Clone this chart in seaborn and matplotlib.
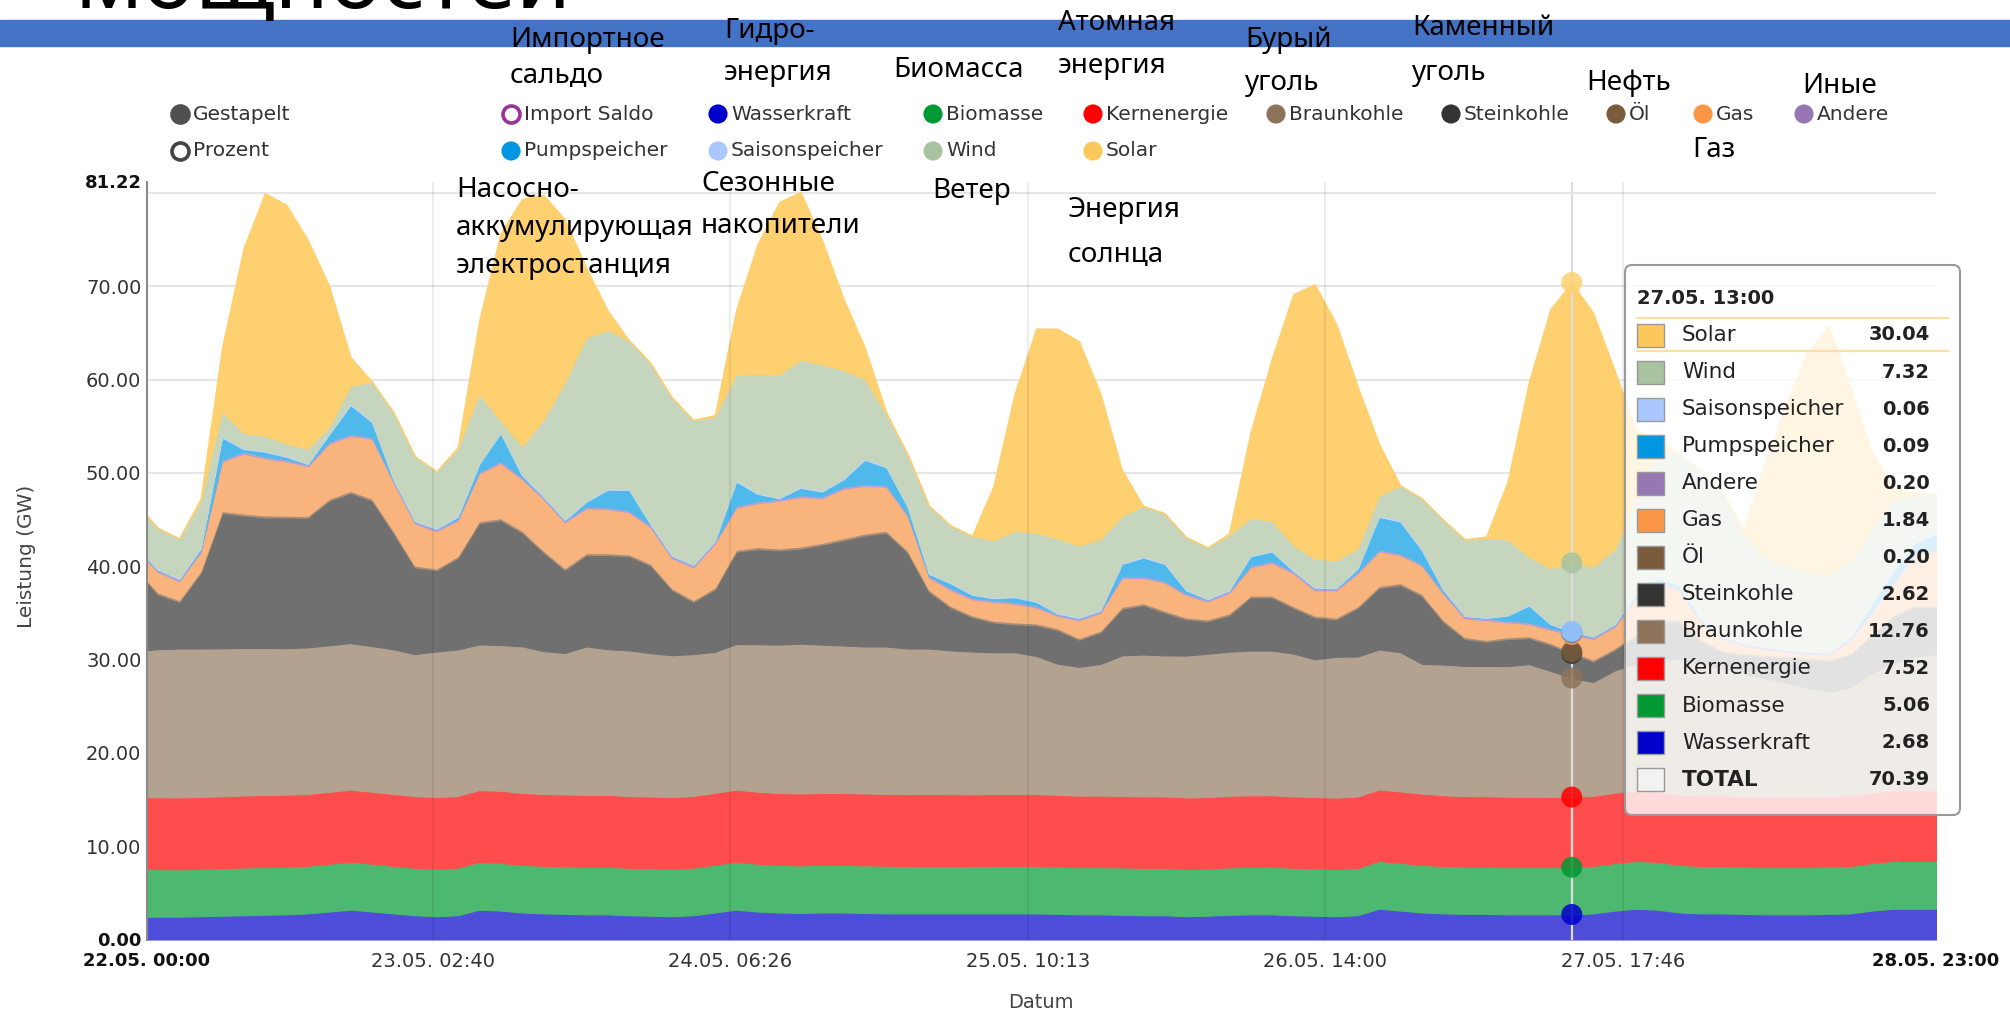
import matplotlib
matplotlib.use("Agg")
import numpy as np
import pandas as pd
import matplotlib.pyplot as plt
from matplotlib.patches import Rectangle, FancyBboxPatch
import seaborn as sns

# time axis: hours after 22.05. 00:00, sampled every two hours
hours = [0] + list(range(1, 168, 2))

# generation per source in GW
wasserkraft = [
    2.45, 2.45, 2.45, 2.5, 2.55, 2.6, 2.65, 2.7, 2.8, 3.0, 3.2, 3.0, 2.8,
    2.6, 2.5, 2.6, 3.2, 3.1, 2.9, 2.8, 2.75, 2.7, 2.7, 2.6, 2.55,
    2.5, 2.6, 2.9, 3.2, 3.0, 2.9, 2.85, 2.9, 2.9, 2.85, 2.8, 2.8,
    2.8, 2.8, 2.8, 2.8, 2.8, 2.8, 2.75, 2.7, 2.7, 2.65, 2.6, 2.6,
    2.5, 2.55, 2.65, 2.7, 2.7, 2.6, 2.55, 2.5, 2.6, 3.3, 3.1, 2.9,
    2.8, 2.75, 2.75, 2.7, 2.7, 2.7, 2.68, 2.8, 3.1, 3.3, 3.2, 2.9,
    2.8, 2.8, 2.75, 2.7, 2.7, 2.7, 2.75, 2.8, 3.1, 3.3, 3.3, 3.3,
]
biomasse = [
    5.10, 5.10, 5.08, 5.08, 5.10, 5.12, 5.12, 5.10, 5.10, 5.12, 5.14, 5.12, 5.10,
    5.08, 5.08, 5.10, 5.12, 5.12, 5.10, 5.10, 5.10, 5.10, 5.10, 5.08, 5.08,
    5.08, 5.10, 5.12, 5.14, 5.12, 5.10, 5.10, 5.10, 5.10, 5.10, 5.10, 5.08,
    5.08, 5.08, 5.08, 5.10, 5.10, 5.10, 5.08, 5.06, 5.06, 5.08, 5.08, 5.08,
    5.06, 5.06, 5.08, 5.10, 5.10, 5.08, 5.08, 5.06, 5.08, 5.12, 5.12, 5.10,
    5.08, 5.06, 5.06, 5.06, 5.06, 5.06, 5.06, 5.08, 5.10, 5.12, 5.12, 5.10,
    5.08, 5.08, 5.06, 5.06, 5.06, 5.06, 5.08, 5.08, 5.10, 5.12, 5.12, 5.12,
]
kernenergie = [
    7.70, 7.70, 7.70, 7.70, 7.70, 7.72, 7.72, 7.72, 7.70, 7.70, 7.72, 7.72, 7.70,
    7.70, 7.68, 7.68, 7.70, 7.72, 7.72, 7.70, 7.70, 7.70, 7.70, 7.70, 7.70,
    7.68, 7.68, 7.70, 7.72, 7.72, 7.70, 7.70, 7.70, 7.70, 7.70, 7.70, 7.70,
    7.70, 7.70, 7.68, 7.68, 7.68, 7.68, 7.68, 7.66, 7.66, 7.66, 7.66, 7.66,
    7.66, 7.66, 7.66, 7.66, 7.66, 7.66, 7.64, 7.64, 7.64, 7.66, 7.66, 7.64,
    7.58, 7.56, 7.56, 7.54, 7.54, 7.53, 7.52, 7.52, 7.53, 7.55, 7.55, 7.55,
    7.55, 7.55, 7.55, 7.55, 7.55, 7.55, 7.55, 7.55, 7.56, 7.58, 7.58, 7.58,
]
braunkohle = [
    15.75, 15.85, 15.95, 15.9, 15.85, 15.8, 15.75, 15.7, 15.7, 15.7, 15.7, 15.6, 15.5,
    15.2, 15.6, 15.7, 15.6, 15.6, 15.7, 15.3, 15.15, 15.9, 15.6, 15.6, 15.35,
    15.2, 15.2, 15.1, 15.6, 15.8, 15.9, 16.05, 15.9, 15.8, 15.75, 15.8, 15.6,
    15.6, 15.4, 15.3, 15.2, 15.2, 14.8, 14.05, 13.8, 14.1, 15.05, 15.2, 15.1,
    15.2, 15.35, 15.45, 15.5, 15.5, 15.3, 14.75, 15.1, 15.0, 15.0, 14.9, 13.9,
    14.0, 13.95, 13.95, 14.0, 14.2, 13.5, 12.76, 12.2, 13.1, 13.6, 14.2, 14.5,
    14.1, 13.6, 13.15, 12.7, 12.2, 11.7, 11.15, 11.6, 12.8, 13.6, 14.3, 14.6,
]
steinkohle = [
    7.3, 5.9, 5.0, 8.1, 14.5, 14.2, 14.0, 14.0, 13.9, 15.5, 16.1, 15.6, 12.5,
    9.3, 8.7, 9.8, 13.0, 13.4, 12.2, 10.6, 8.9, 9.8, 10.1, 10.1, 9.4,
    7.0, 5.6, 6.7, 9.9, 10.2, 10.1, 10.2, 10.7, 11.3, 11.9, 12.2, 10.3,
    6.1, 4.6, 3.7, 3.2, 3.0, 3.3, 3.6, 2.9, 3.4, 5.0, 5.3, 4.6,
    3.9, 3.5, 3.9, 5.7, 5.7, 4.9, 4.5, 4.0, 5.2, 6.6, 7.2, 7.3,
    4.6, 2.9, 2.6, 2.9, 2.8, 2.8, 2.62, 2.2, 2.2, 3.0, 4.0, 4.0,
    2.5, 1.8, 2.0, 2.3, 2.7, 3.0, 3.3, 3.5, 4.0, 5.0, 5.3, 5.0,
]
oel = [
    0.20, 0.20, 0.20, 0.20, 0.21, 0.21, 0.21, 0.20, 0.20, 0.21, 0.21, 0.21, 0.20,
    0.20, 0.20, 0.20, 0.21, 0.21, 0.21, 0.20, 0.20, 0.20, 0.20, 0.20, 0.20,
    0.20, 0.20, 0.20, 0.21, 0.21, 0.21, 0.21, 0.20, 0.20, 0.21, 0.21, 0.20,
    0.20, 0.19, 0.19, 0.19, 0.20, 0.20, 0.20, 0.19, 0.19, 0.20, 0.20, 0.20,
    0.19, 0.19, 0.20, 0.20, 0.20, 0.20, 0.20, 0.20, 0.20, 0.21, 0.21, 0.20,
    0.20, 0.19, 0.19, 0.20, 0.20, 0.20, 0.20, 0.20, 0.20, 0.21, 0.21, 0.20,
    0.20, 0.19, 0.19, 0.19, 0.19, 0.19, 0.19, 0.20, 0.20, 0.21, 0.21, 0.21,
]
gas = [
    2.1, 2.2, 2.0, 2.0, 5.3, 6.4, 6.1, 5.8, 5.3, 5.9, 5.9, 6.4, 5.2,
    4.5, 4.0, 3.8, 5.1, 5.9, 5.5, 5.5, 4.9, 4.8, 4.7, 4.5, 3.9,
    3.2, 3.5, 4.7, 4.5, 4.7, 5.1, 5.3, 4.8, 5.3, 5.1, 4.7, 3.7,
    1.3, 1.7, 1.7, 2.0, 2.0, 1.7, 1.3, 1.9, 1.9, 3.1, 2.7, 3.0,
    2.4, 1.9, 2.2, 3.0, 3.5, 3.5, 2.7, 2.9, 3.5, 3.7, 3.0, 3.0,
    2.8, 2.0, 2.1, 1.6, 1.3, 1.4, 1.84, 2.2, 2.3, 3.7, 4.0, 3.2,
    1.8, 1.2, 0.8, 0.6, 0.4, 0.4, 0.5, 1.3, 2.3, 3.3, 5.3, 5.8,
]
andere = [
    0.20, 0.20, 0.20, 0.20, 0.20, 0.21, 0.21, 0.21, 0.20, 0.20, 0.21, 0.20, 0.20,
    0.20, 0.20, 0.20, 0.20, 0.21, 0.21, 0.20, 0.20, 0.20, 0.20, 0.20, 0.20,
    0.20, 0.20, 0.20, 0.21, 0.21, 0.21, 0.20, 0.20, 0.20, 0.20, 0.20, 0.20,
    0.20, 0.20, 0.20, 0.20, 0.20, 0.20, 0.20, 0.20, 0.20, 0.20, 0.20, 0.20,
    0.20, 0.20, 0.20, 0.20, 0.21, 0.21, 0.21, 0.20, 0.20, 0.20, 0.20, 0.20,
    0.20, 0.20, 0.20, 0.20, 0.20, 0.20, 0.20, 0.20, 0.20, 0.20, 0.20, 0.20,
    0.20, 0.20, 0.20, 0.20, 0.20, 0.20, 0.20, 0.20, 0.20, 0.20, 0.20, 0.20,
]
pumpspeicher = [
    0.05, 0.05, 0.05, 0.2, 2.4, 0.3, 0.5, 0.3, 0.05, 0.8, 3.1, 1.6, 0.1,
    0.05, 0.05, 0.2, 0.8, 3.0, 0.2, 0.05, 0.05, 0.5, 1.9, 2.2, 0.1,
    0.05, 0.05, 0.05, 2.6, 0.8, 0.05, 0.8, 0.5, 0.8, 2.6, 1.9, 0.8,
    0.2, 0.5, 0.3, 0.2, 0.5, 0.4, 0.05, 0.05, 0.05, 1.3, 2.0, 1.8,
    0.3, 0.05, 0.05, 1.0, 1.0, 0.05, 0.05, 0.05, 0.3, 3.5, 3.4, 1.5,
    0.2, 0.05, 0.05, 0.5, 1.8, 0.4, 0.09, 0.05, 0.05, 0.3, 0.3, 0.3,
    0.2, 0.05, 0.05, 0.05, 0.05, 0.05, 0.05, 0.2, 0.7, 1.2, 1.2, 1.7,
]
saisonspeicher = [
    0.10, 0.10, 0.10, 0.10, 0.15, 0.12, 0.12, 0.12, 0.10, 0.12, 0.15, 0.12, 0.10,
    0.10, 0.10, 0.10, 0.12, 0.15, 0.12, 0.10, 0.10, 0.10, 0.12, 0.12, 0.10,
    0.10, 0.10, 0.10, 0.15, 0.12, 0.10, 0.12, 0.12, 0.12, 0.15, 0.12, 0.10,
    0.10, 0.10, 0.10, 0.10, 0.10, 0.10, 0.10, 0.10, 0.10, 0.12, 0.12, 0.12,
    0.10, 0.10, 0.10, 0.10, 0.10, 0.10, 0.10, 0.10, 0.10, 0.15, 0.15, 0.12,
    0.10, 0.08, 0.08, 0.08, 0.10, 0.08, 0.06, 0.06, 0.08, 0.10, 0.10, 0.10,
    0.10, 0.08, 0.08, 0.08, 0.08, 0.08, 0.08, 0.10, 0.10, 0.12, 0.12, 0.12,
]
wind = [
    4.45, 4.35, 4.25, 5.0, 2.6, 1.6, 1.6, 1.3, 1.55, 0.7, 1.9, 4.2, 7.1,
    6.85, 6.05, 7.2, 7.4, 1.2, 3.0, 8.15, 14.65, 17.5, 17.0, 15.9, 17.2,
    16.85, 15.45, 13.25, 11.4, 12.7, 13.15, 13.6, 13.5, 11.6, 8.5, 5.6, 5.5,
    7.2, 6.1, 6.2, 6.1, 7.0, 7.3, 7.95, 7.65, 7.55, 5.0, 5.4, 5.3,
    5.6, 5.45, 5.85, 4.0, 3.2, 2.65, 3.05, 2.85, 2.1, 2.1, 3.7, 5.4,
    7.4, 8.15, 8.45, 8.1, 5.1, 5.9, 7.32, 7.45, 7.95, 10.0, 13.7, 14.0,
    15.8, 15.65, 11.65, 9.55, 8.85, 8.55, 8.15, 8.0, 8.0, 7.5, 5.0, 4.1,
]
solar = [
    0, 0, 0, 0.3, 6.9, 19.8, 26.0, 25.6, 22.4, 15.1, 3.1, 0, 0,
    0, 0, 0.2, 7.9, 20.1, 26.5, 24.1, 17.5, 7.5, 2.1, 0, 0,
    0, 0, 0.2, 6.9, 14.0, 18.5, 18.0, 13.4, 7.7, 3.4, 0.2, 0,
    0, 0, 0, 5.8, 14.8, 21.9, 22.5, 21.9, 15.6, 5.0, 0, 0,
    0, 0, 0.2, 9.2, 17.4, 26.9, 29.4, 25.4, 17.4, 5.6, 0, 0,
    0, 0, 0.2, 6.2, 18.8, 27.8, 30.04, 27.2, 19.2, 7.5, 1.0, 0,
    0, 0, 0.5, 10.0, 17.5, 23.5, 26.8, 18.7, 8.2, 1.3, 0.3, 0,
]

series = {
    "Wasserkraft": wasserkraft, "Biomasse": biomasse, "Kernenergie": kernenergie,
    "Braunkohle": braunkohle, "Steinkohle": steinkohle, "Öl": oel, "Gas": gas,
    "Andere": andere, "Pumpspeicher": pumpspeicher, "Saisonspeicher": saisonspeicher,
    "Wind": wind, "Solar": solar,
}
stack_order = list(series.keys())

tick_hours = [0, 26.667, 54.433, 82.217, 110, 137.767, 167]
tick_labels = ["22.05. 00:00", "23.05. 02:40", "24.05. 06:26", "25.05. 10:13",
               "26.05. 14:00", "27.05. 17:46", "28.05. 23:00"]
y_ticks = [0, 10, 20, 30, 40, 50, 60, 70, 81.22]
y_labels = ["0.00", "10.00", "20.00", "30.00", "40.00", "50.00", "60.00", "70.00", "81.22"]
hover_hour = 133
hover_title = "27.05. 13:00"

# colours: area fills (lighter) and marker / swatch colours
fill_colors = {
    "Wasserkraft": "#4d4dd9", "Biomasse": "#4db870", "Kernenergie": "#ff4d4d",
    "Braunkohle": "#b4a291", "Steinkohle": "#707070", "Öl": "#a58f79",
    "Gas": "#f9b47d", "Andere": "#b9a0cf", "Pumpspeicher": "#50b9eb",
    "Saisonspeicher": "#c4d8ff", "Wind": "#c5d5be", "Solar": "#fed070",
}
mark_colors = {
    "Wasserkraft": "#0000cc", "Biomasse": "#009933", "Kernenergie": "#ff0000",
    "Braunkohle": "#8c7359", "Steinkohle": "#333333", "Öl": "#7a5c3d",
    "Gas": "#fa9646", "Andere": "#9677b4", "Pumpspeicher": "#0096e1",
    "Saisonspeicher": "#aac8ff", "Wind": "#a8c3a0", "Solar": "#fdc85a",
}

sns.set_theme(style="white")
plt.rcParams["font.family"] = ["DejaVu Sans"]

W_PX, H_PX = 2010, 1014
fig = plt.figure(figsize=(W_PX / 100, H_PX / 100), dpi=100)

# main plot area in pixel positions
x0, x1, y_top, y_bot = 147, 1936, 181.5, 939.5
ax = fig.add_axes([x0 / W_PX, 1 - y_bot / H_PX, (x1 - x0) / W_PX, (y_bot - y_top) / H_PX])

for v in range(10, 81, 10):
    ax.axhline(v, color="#e6e6e6", lw=1.5, zorder=1)

polys = ax.stackplot(hours, *[series[n] for n in stack_order],
                     colors=[fill_colors[n] for n in stack_order], linewidth=0.8, zorder=2)
for p in polys:
    p.set_edgecolor(p.get_facecolor())

for t in tick_hours[1:-1]:
    ax.axvline(t, color="black", alpha=0.07, lw=1.5, zorder=3)

ax.axvline(hover_hour, color="#dddddd", lw=1.6, zorder=4)

# hover markers at the stacked boundaries (solar marker blends into its area)
idx = hours.index(hover_hour)
hover_vals = [series[n][idx] for n in stack_order]
marker_palette = dict(mark_colors, Solar=fill_colors["Solar"])
markers = pd.DataFrame({"hour": hover_hour, "top": np.cumsum(hover_vals), "name": stack_order})
sns.scatterplot(data=markers, x="hour", y="top", hue="name", palette=marker_palette,
                s=230, alpha=0.85, edgecolor="none", legend=False, ax=ax, zorder=5)

ax.set_xlim(0, 167)
ax.set_ylim(0, 81.22)
ax.set_xticks(tick_hours, tick_labels)
ax.set_yticks(y_ticks, y_labels)
ax.tick_params(axis="both", length=0, labelsize=14, colors="#333333")
ax.tick_params(axis="x", pad=9)
ax.tick_params(axis="y", pad=4)
for lab in (ax.get_xticklabels()[0], ax.get_xticklabels()[-1],
            ax.get_yticklabels()[0], ax.get_yticklabels()[-1]):
    lab.set_fontweight("bold")
    lab.set_fontsize(13)
    lab.set_color("#111111")
ax.set_xlabel("")
ax.set_ylabel("")
for side in ("top", "right", "bottom"):
    ax.spines[side].set_visible(False)
ax.spines["left"].set_color("#8a8a8a")
ax.spines["left"].set_linewidth(1.5)

fig.text(26 / W_PX, 1 - 556 / H_PX, "Leistung (GW)", rotation=90, ha="center", va="center",
         fontsize=14.5, color="#444444")
fig.text(1041 / W_PX, 1 - 1003 / H_PX, "Datum", ha="center", va="center",
         fontsize=14, color="#444444")

# overlay in pixel coordinates for slide decoration, legend and tooltip
ov = fig.add_axes([0, 0, 1, 1])
ov.set_zorder(5)
ov.set_xlim(0, W_PX)
ov.set_ylim(H_PX, 0)
ov.axis("off")

ov.add_patch(Rectangle((0, 19.5), W_PX, 26.5, color="#4472c4", zorder=1))
ov.text(74, 8, "мощностей", fontsize=64, va="baseline", ha="left", color="black",
        family=["Noto Sans", "DejaVu Sans"], zorder=2)

# legend
legend_items = [
    ("Gestapelt", 180, 114, "#505050", "#505050"),
    ("Prozent", 180, 151, "white", "#444444"),
    ("Import Saldo", 511, 114, "white", "#993399"),
    ("Pumpspeicher", 511, 151, mark_colors["Pumpspeicher"], None),
    ("Wasserkraft", 718, 114, mark_colors["Wasserkraft"], None),
    ("Saisonspeicher", 718, 151, mark_colors["Saisonspeicher"], None),
    ("Biomasse", 933, 114, mark_colors["Biomasse"], None),
    ("Wind", 933, 151, mark_colors["Wind"], None),
    ("Kernenergie", 1093, 114, mark_colors["Kernenergie"], None),
    ("Solar", 1093, 151, mark_colors["Solar"], None),
    ("Braunkohle", 1276, 114, mark_colors["Braunkohle"], None),
    ("Steinkohle", 1451, 114, mark_colors["Steinkohle"], None),
    ("Öl", 1616, 114, mark_colors["Öl"], None),
    ("Gas", 1703, 114, mark_colors["Gas"], None),
    ("Andere", 1804, 114, mark_colors["Andere"], None),
]
for label, lx, ly, fc, ec in legend_items:
    if ec is None:
        ov.scatter([lx], [ly], s=190, color=fc, edgecolors="none", zorder=3)
    else:
        ov.scatter([lx], [ly], s=150, facecolors=fc, edgecolors=ec, linewidths=2.6, zorder=3)
    ov.text(lx + 13, ly, label, fontsize=14.5, va="center", ha="left", color="#333333")

# russian annotations (text, x, baseline)
notes = [
    ("Импортное", 510, 46.7), ("сальдо", 510, 83),
    ("Гидро-", 724, 38.3), ("энергия", 724, 80),
    ("Биомасса", 893, 76.7),
    ("Атомная", 1058, 30), ("энергия", 1058, 73),
    ("Бурый", 1245, 46.7), ("уголь", 1245, 90),
    ("Каменный", 1412, 35), ("уголь", 1412, 80),
    ("Нефть", 1586, 90),
    ("Иные", 1802, 93),
    ("Газ", 1692, 157),
    ("Насосно-", 456, 196.7), ("аккумулирующая", 456, 235), ("электростанция", 456, 273),
    ("Сезонные", 701, 190.7), ("накопители", 701, 233),
    ("Ветер", 932, 198),
    ("Энергия", 1068, 217), ("солнца", 1068, 261.4),
]
for txt, nx, ny in notes:
    ov.text(nx, ny, txt, fontsize=20, va="baseline", ha="left", color="black",
            family=["Noto Sans", "DejaVu Sans"], zorder=4)

# tooltip
ov.add_patch(FancyBboxPatch((1625, 265), 335, 550, boxstyle="round,pad=0,rounding_size=7",
                            facecolor=(1, 1, 1, 0.8), edgecolor="#9a9a9a", lw=1.5, zorder=5))
ov.text(1637, 298, hover_title, fontsize=14, fontweight="bold", va="center", color="#222222", zorder=6)
ov.plot([1637, 1948], [317.5, 317.5], color="#ffdca8", lw=1.6, zorder=6)
ov.plot([1637, 1948], [351, 351], color="#ffdca8", lw=1.6, zorder=6)
tip_rows = stack_order[::-1]
for i, name in enumerate(tip_rows + ["TOTAL"]):
    yc = 335 + 37.05 * i
    if name == "TOTAL":
        val = sum(hover_vals)
        sw = "#f2f2f2"
    else:
        val = series[name][idx]
        sw = mark_colors[name]
    ov.add_patch(Rectangle((1637, yc - 11.5), 27, 23, facecolor=sw, edgecolor="#999999", lw=1, zorder=6))
    ov.text(1682, yc, name, fontsize=15.5, va="center", ha="left", color="#222222",
            fontweight="bold" if name == "TOTAL" else "normal", zorder=6)
    ov.text(1930, yc, f"{val:.2f}", fontsize=14, va="center", ha="right", color="#222222",
            fontweight="bold", zorder=6)

fig.savefig("out.png", dpi=100)
